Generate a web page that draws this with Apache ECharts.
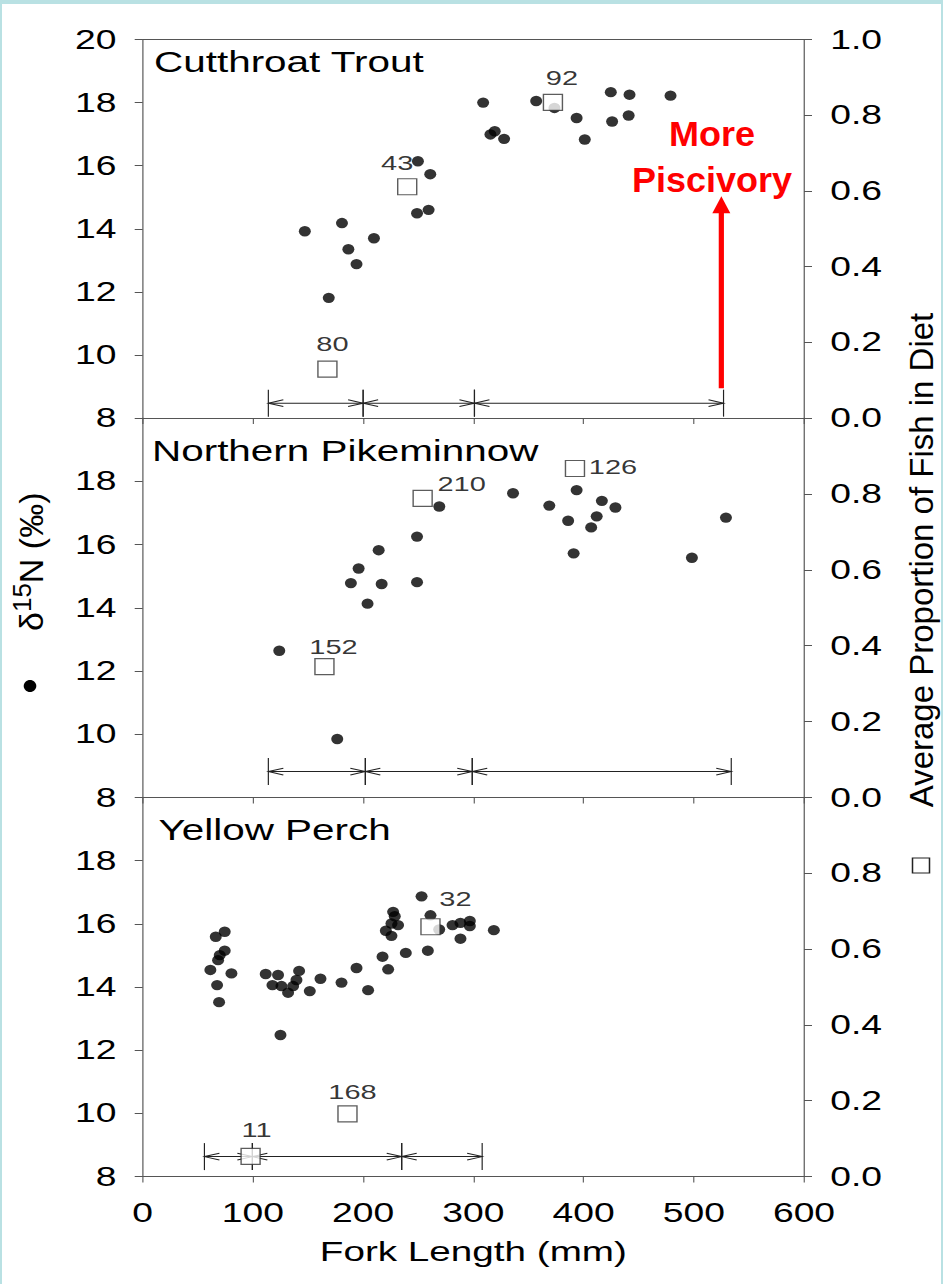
<!DOCTYPE html>
<html>
<head>
<meta charset="utf-8">
<title>δ15N and piscivory by fork length</title>
<script src="https://cdn.jsdelivr.net/npm/echarts@6/dist/echarts.min.js"></script>
<style>
  html, body { margin: 0; padding: 0; background: #b9e1e3; overflow: hidden; }
  #frame { position: absolute; left: 2px; top: 4px; width: 939px; height: 1280px; background: #fff; }
  /* the figure is laid out narrow and widened so that its lettering comes out broad */
  #chart { position: absolute; left: 0; top: 0; width: 683px; height: 1284px;
           transform: scaleX(1.380673); transform-origin: 0 0; }
</style>
</head>
<body>
<div id="frame"></div>
<div id="chart"></div>
<script>
// ---- Cutthroat Trout ----
const ctLength = [147.1, 180.8, 186.6, 194.0, 209.8, 168.8, 249.7, 260.9, 248.9, 259.4, 308.9, 315.5,
                  319.4, 327.9, 357.0, 373.6, 393.7, 401.1, 424.7, 441.7, 425.9, 440.9, 478.9];
const ctD15N   = [13.92, 14.18, 13.35, 12.88, 13.70, 11.81, 16.14, 15.73, 14.49, 14.60, 18.00, 16.99,
                  17.09, 16.85, 18.05, 17.83, 17.51, 16.83, 18.33, 18.25, 17.40, 17.59, 18.22];
const ctDietLength = [167.6, 240.0, 372.2];
const ctDietFish   = [0.129, 0.611, 0.834];
const ctDietN      = [80, 43, 92];
const ctSizeBreaks = [114, 200, 301, 527];

// ---- Northern Pikeminnow ----
const npLength = [123.9, 176.5, 188.9, 195.9, 214.1, 216.8, 204.0, 248.9, 248.9, 269.1, 336.0,
                  368.9, 393.7, 416.6, 428.9, 386.0, 411.9, 406.9, 391.0, 498.3, 529.2];
const npD15N   = [12.64, 9.85, 14.78, 15.24, 15.82, 14.75, 14.13, 16.25, 14.81, 17.20, 17.62,
                  17.23, 17.72, 17.38, 17.17, 16.75, 16.89, 16.54, 15.72, 15.58, 16.85];
const npDietLength = [164.9, 254.0, 392.2];
const npDietFish   = [0.345, 0.788, 0.867];
const npDietN      = [152, 210, 126];
const npSizeBreaks = [114, 202, 299, 534];

// ---- Yellow Perch ----
const ypLength = [66.3, 74.4, 74.4, 69.9, 68.4, 61.4, 80.5, 67.5, 69.3, 111.6, 122.8, 117.7, 125.9,
                  131.9, 136.5, 139.5, 141.9, 151.6, 161.3, 180.4, 125.0,
                  253.0, 227.2, 228.7, 231.7, 225.7, 220.6, 225.7, 261.1, 269.0, 281.1, 288.3,
                  296.8, 296.8, 318.6, 288.3, 258.7, 238.7, 217.6, 222.7, 194.0, 204.5];
const ypD15N   = [15.59, 15.75, 15.15, 15.01, 14.85, 14.54, 14.43, 14.06, 13.52, 14.41, 14.38, 14.06, 14.03,
                  13.82, 14.03, 14.22, 14.51, 13.87, 14.26, 14.14, 12.48,
                  16.87, 16.38, 16.24, 15.96, 16.01, 15.78, 15.62, 16.27, 15.82, 15.96, 16.03,
                  16.09, 15.93, 15.80, 15.53, 15.15, 15.08, 14.96, 14.56, 14.60, 13.90];
const ypDietLength = [97.9, 185.8, 261.1];
const ypDietFish   = [0.053, 0.165, 0.659];
const ypDietN      = [11, 168, 32];
const ypSizeBreaks = [56, 99.5, 235, 308];

// ---- axes ----
const lengthRange = [0, 600, 100];
const d15nRange   = [8, 20, 2];
const fishRange   = [0, 1, 0.2];

// ---- layout / styling ----
const SX = 943 / 683;                       // horizontal widening applied to the page
const FONT = '"Liberation Sans", Arial, Helvetica, sans-serif';
const AXIS_GREY = '#555';
const ELLIPSE = 'path://M0,-1A1,1,0,1,1,0,1A1,1,0,1,1,0,-1Z';

const grids = [
  { left: 142.7 / SX, top: 39.5,  width: 661.3 / SX, height: 378.5 },
  { left: 142.7 / SX, top: 418,   width: 661.3 / SX, height: 379.5 },
  { left: 142.7 / SX, top: 797.5, width: 661.3 / SX, height: 379 }
];

// count labels beside the diet squares: [dx, dy] in screen px from the square centre
const ctLabelNudge = [[5, -26], [-10, -24], [9, -25]];
const npLabelNudge = [[9, -20], [39, -15], [38, -2]];
const ypLabelNudge = [[6, -27], [5, -22], [25, -28]];

const panels = [
  { title: 'Cutthroat Trout',     titleX: 154, titleY: 47,
    len: ctLength, d15n: ctD15N, dietLen: ctDietLength, fish: ctDietFish, n: ctDietN,
    nudge: ctLabelNudge, breaks: ctSizeBreaks, rangeY: 8.47 },
  { title: 'Northern Pikeminnow', titleX: 152, titleY: 436.5,
    len: npLength, d15n: npD15N, dietLen: npDietLength, fish: npDietFish, n: npDietN,
    nudge: npLabelNudge, breaks: npSizeBreaks, rangeY: 8.82 },
  { title: 'Yellow Perch',        titleX: 158.5, titleY: 815.5,
    len: ypLength, d15n: ypD15N, dietLen: ypDietLength, fish: ypDietFish, n: ypDietN,
    nudge: ypLabelNudge, breaks: ypSizeBreaks, rangeY: 8.63 }
];

const tickLabel = { fontSize: 27, color: '#000', fontFamily: FONT };

const xAxes = [], yAxes = [], series = [], titles = [];

panels.forEach((p, i) => {
  const last = i === panels.length - 1;
  titles.push({
    text: p.title, left: p.titleX / SX, top: p.titleY, padding: 0,
    textStyle: { fontSize: 29.3, fontWeight: 'normal', color: '#000', fontFamily: FONT }
  });

  xAxes.push({
    type: 'value', gridIndex: i, position: 'bottom',
    min: lengthRange[0], max: lengthRange[1], interval: lengthRange[2],
    axisLine: { show: true, onZero: false, lineStyle: { color: AXIS_GREY, width: 1 } },
    axisTick: { show: true, inside: false, length: 6, lineStyle: { color: AXIS_GREY, width: 0.8 } },
    axisLabel: Object.assign({ show: last, margin: 23 }, tickLabel),
    splitLine: { show: false },
    name: last ? 'Fork Length (mm)' : '',
    nameLocation: 'middle', nameGap: 61,
    nameTextStyle: { fontSize: 28, color: '#000', fontFamily: FONT }
  });

  yAxes.push({
    type: 'value', gridIndex: i, position: 'left',
    min: d15nRange[0], max: d15nRange[1], interval: d15nRange[2],
    axisLine: { show: true, onZero: false, lineStyle: { color: AXIS_GREY, width: 0.85 } },
    axisTick: { show: true, inside: false, length: 8 / SX, lineStyle: { color: AXIS_GREY, width: 1 } },
    axisLabel: Object.assign({ show: true, margin: 19, showMaxLabel: i === 0, showMinLabel: true }, tickLabel),
    splitLine: { show: false }
  });
  yAxes.push({
    type: 'value', gridIndex: i, position: 'right',
    min: fishRange[0], max: fishRange[1], interval: fishRange[2],
    axisLine: { show: true, onZero: false, lineStyle: { color: AXIS_GREY, width: 0.85 } },
    axisTick: { show: true, inside: false, length: 8 / SX, lineStyle: { color: AXIS_GREY, width: 1 } },
    axisLabel: Object.assign({ show: true, margin: 19, showMaxLabel: i === 0, showMinLabel: true,
                               formatter: v => v.toFixed(1) }, tickLabel),
    splitLine: { show: false }
  });

  // size-class ranges drawn as double-headed arrows between breakpoints
  const segs = p.breaks.slice(1).map((b, k) => [p.breaks[k], b, p.rangeY]);
  series.push({
    type: 'custom', name: 'size classes', xAxisIndex: i, yAxisIndex: 2 * i,
    silent: true, z: 2, encode: { x: [0, 1], y: 2 }, data: segs,
    renderItem(params, api) {
      const a = api.coord([api.value(0), api.value(2)]);
      const b = api.coord([api.value(1), api.value(2)]);
      const L = 15 / SX, H = 3.4, BAR = 13.5;
      const st = { stroke: '#222', lineWidth: 1, fill: null };
      const vst = { stroke: '#222', lineWidth: 0.85, fill: null };
      return {
        type: 'group', children: [
          { type: 'line', shape: { x1: a[0], y1: a[1], x2: b[0], y2: b[1] }, style: st },
          { type: 'polyline', shape: { points: [[a[0] + L, a[1] - H], [a[0], a[1]], [a[0] + L, a[1] + H]] }, style: st },
          { type: 'polyline', shape: { points: [[b[0] - L, b[1] - H], [b[0], b[1]], [b[0] - L, b[1] + H]] }, style: st },
          { type: 'line', shape: { x1: a[0], y1: a[1] - BAR, x2: a[0], y2: a[1] + BAR }, style: vst },
          { type: 'line', shape: { x1: b[0], y1: b[1] - BAR, x2: b[0], y2: b[1] + BAR }, style: vst }
        ]
      };
    }
  });

  series.push({
    type: 'scatter', name: 'δ15N', xAxisIndex: i, yAxisIndex: 2 * i,
    data: p.len.map((x, k) => [x, p.d15n[k]]),
    symbol: ELLIPSE, symbolSize: [12 / SX, 10.4], symbolKeepAspect: false,
    itemStyle: { color: '#000' }, silent: true, z: 3
  });

  series.push({
    type: 'scatter', name: 'Average Proportion of Fish in Diet', xAxisIndex: i, yAxisIndex: 2 * i + 1,
    data: p.dietLen.map((x, k) => ({
      value: [x, p.fish[k]],
      label: { offset: [p.nudge[k][0] / SX, p.nudge[k][1]] }
    })),
    symbol: 'rect', symbolSize: [19 / SX, 16],
    itemStyle: { color: '#fff', borderColor: '#333', borderWidth: 1.1 },
    label: { show: true, position: 'inside', formatter: q => String(p.n[q.dataIndex]),
             fontSize: 21, color: '#000', fontFamily: FONT },
    silent: true, z: 4
  });
});

// frame line along the top of the upper panel
xAxes.push({
  type: 'value', gridIndex: 0, position: 'top',
  min: lengthRange[0], max: lengthRange[1],
  axisLine: { show: true, onZero: false, lineStyle: { color: AXIS_GREY, width: 1 } },
  axisTick: { show: false }, axisLabel: { show: false }, splitLine: { show: false }
});

// "More Piscivory" arrow in the Cutthroat Trout panel
series.push({
  type: 'custom', name: 'More Piscivory', xAxisIndex: 0, yAxisIndex: 0, silent: true, z: 5,
  encode: { x: 0, y: [1, 2] }, data: [[525, 8.94, 15.03]],
  renderItem(params, api) {
    const base = api.coord([api.value(0), api.value(1)]);
    const tip = api.coord([api.value(0), api.value(2)]);
    const headLen = 17, headHalf = 9 / SX, shaftHalf = 2.6 / SX;
    const textAt = api.coord([516.5, 16.29]);
    return {
      type: 'group', children: [
        { type: 'rect', shape: { x: base[0] - shaftHalf, y: tip[1] + headLen - 1,
                                 width: 2 * shaftHalf, height: base[1] - tip[1] - headLen + 1 },
          style: { fill: '#ff0000' } },
        { type: 'polygon', shape: { points: [[tip[0], tip[1]], [tip[0] - headHalf, tip[1] + headLen],
                                             [tip[0] + headHalf, tip[1] + headLen]] },
          style: { fill: '#ff0000' } },
        { type: 'text', x: textAt[0], y: textAt[1], scaleX: 1 / SX,
          style: { text: 'More\nPiscivory', fill: '#ff0000', fontSize: 36, fontWeight: 'bold',
                   fontFamily: FONT, lineHeight: 46, align: 'center', verticalAlign: 'middle' } }
      ]
    };
  }
});

const option = {
  animation: false,
  backgroundColor: 'transparent',
  title: titles,
  grid: grids,
  xAxis: xAxes,
  yAxis: yAxes,
  series: series,
  graphic: [
    // δ15N (‰), read bottom to top, anchored at its first letter
    { type: 'text', x: 28.5 / SX, y: 631, rotation: Math.PI / 2, scaleY: 1 / SX,
      style: { text: '{d|δ}{s|15}{d|N (‰)}', align: 'left', verticalAlign: 'middle',
               rich: { d: { fontSize: 34, lineHeight: 40, fontFamily: FONT, fill: '#000',
                            align: 'left', verticalAlign: 'bottom' },
                       s: { fontSize: 26, lineHeight: 26, fontFamily: FONT, fill: '#000',
                            align: 'left', verticalAlign: 'top' } } } },
    { type: 'ellipse', shape: { cx: 30 / SX, cy: 686, rx: 6.3 / SX, ry: 6 }, style: { fill: '#000' } },
    { type: 'text', x: 922 / SX, y: 560, rotation: Math.PI / 2, scaleY: 1 / SX,
      style: { text: 'Average Proportion of Fish in Diet', fontSize: 33, fontFamily: FONT, fill: '#000',
               align: 'center', verticalAlign: 'middle' } },
    { type: 'rect', shape: { x: (921 - 8.5) / SX, y: 858, width: 17 / SX, height: 15 },
      style: { fill: '#fff', stroke: '#222', lineWidth: 1.1 } }
  ]
};

const chart = echarts.init(document.getElementById('chart'), null,
                           { renderer: 'svg', width: 683, height: 1284 });
chart.setOption(option);
</script>
</body>
</html>
